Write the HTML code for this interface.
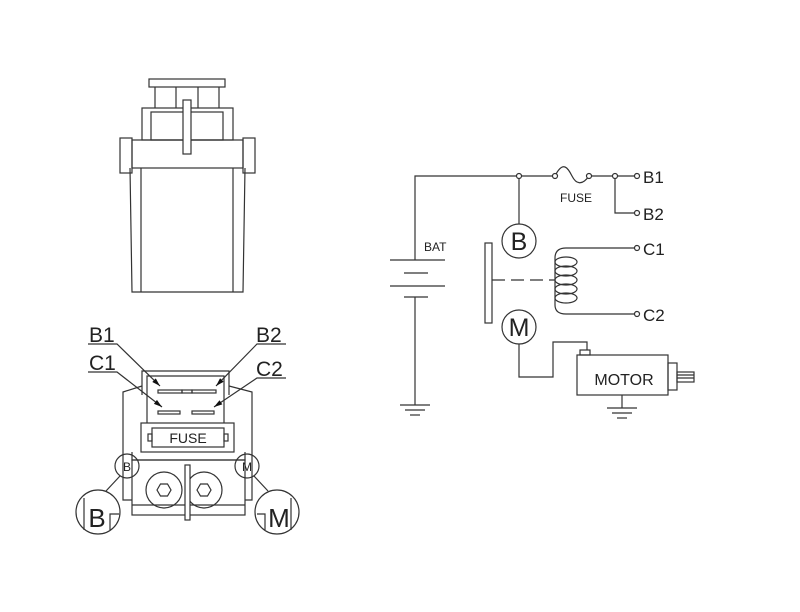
<!DOCTYPE html>
<html><head><style>html,body{margin:0;padding:0;background:#fff}svg{display:block}</style></head>
<body>
<svg width="800" height="612" viewBox="0 0 800 612" xmlns="http://www.w3.org/2000/svg" font-family="Liberation Sans, sans-serif">
<defs><marker id="a" viewBox="0 0 10 6" refX="10" refY="3" markerWidth="9" markerHeight="5" orient="auto" markerUnits="userSpaceOnUse"><path d="M0 0 L10 3 L0 6z" fill="#111"/></marker></defs>
<g fill="none" stroke="#333" stroke-width="1.2">
<!-- top view -->
<rect x="149" y="79" width="76" height="8"/>
<line x1="155" y1="87" x2="155" y2="108"/><line x1="176" y1="87" x2="176" y2="108"/>
<line x1="198" y1="87" x2="198" y2="108"/><line x1="219" y1="87" x2="219" y2="108"/>
<rect x="142" y="108" width="91" height="32"/>
<rect x="151" y="112" width="72" height="28"/>
<rect x="120" y="138" width="12" height="35"/><rect x="243" y="138" width="12" height="35"/>
<rect x="132" y="140" width="111" height="28"/>
<rect x="183" y="100" width="8" height="54" fill="#fff"/>
<path d="M130 168 L132 292 L243 292 L245 168"/>
<line x1="141" y1="168" x2="141" y2="292"/><line x1="233" y1="168" x2="233" y2="292"/>

<!-- bottom view -->
<path d="M142 395 L142 371 L229 371 L229 395"/>
<path d="M147 423 L147 376 L224 376 L224 423"/>
<path d="M142 386 L123 392 L123 500 L132 500"/>
<path d="M229 386 L252 392 L252 500 L245 500"/>
<rect x="158" y="390" width="24" height="3"/><rect x="192" y="390" width="24" height="3"/>
<rect x="182" y="390" width="10" height="3"/>
<rect x="158" y="411" width="22" height="3"/><rect x="192" y="411" width="22" height="3"/>
<rect x="141" y="423" width="93" height="29"/>
<rect x="152" y="428" width="72" height="19"/>
<rect x="148" y="434" width="4" height="7"/><rect x="224" y="434" width="4" height="7"/>
<path d="M132 452 L132 460 L245 460 L245 452"/>
<rect x="132" y="460" width="113" height="55"/>
<line x1="132" y1="505" x2="245" y2="505"/>
<circle cx="164" cy="490" r="18"/><circle cx="204" cy="490" r="18"/>
<polygon points="157,490 160.5,484 167.5,484 171,490 167.5,496 160.5,496"/>
<polygon points="197,490 200.5,484 207.5,484 211,490 207.5,496 200.5,496"/>
<rect x="185" y="465" width="5" height="55" fill="#fff"/>
<circle cx="127" cy="466" r="12"/><circle cx="247" cy="466" r="12"/>
<circle cx="98" cy="512" r="22"/><circle cx="277" cy="512" r="22"/>
<line x1="120" y1="476" x2="106" y2="491"/><line x1="254" y1="476" x2="268" y2="491"/>
<line x1="84" y1="498" x2="84" y2="530"/><path d="M110 530 L110 514 L119 514"/>
<line x1="291" y1="498" x2="291" y2="530"/><path d="M265 530 L265 514 L257 514"/>
<!-- leaders -->
<path d="M88 344 L117 344 L160 386" marker-end="url(#a)"/>
<path d="M286 344 L257 344 L216 386" marker-end="url(#a)"/>
<path d="M88 372 L117 372 L162 407" marker-end="url(#a)"/>
<path d="M286 378 L257 378 L214 407" marker-end="url(#a)"/>

<!-- schematic -->
<path d="M415 260 L415 176 L555 176"/>
<path d="M589 176 L637 176"/>
<path d="M555 176 C563 160 568 168 572 176 C576 184 582 186 589 176"/>
<path d="M615 176 L615 213 L637 213"/>
<line x1="519" y1="176" x2="519" y2="224"/>
<circle cx="519" cy="241" r="17"/>
<circle cx="519" cy="327" r="17"/>
<rect x="485" y="243" width="7" height="80"/>
<line x1="492" y1="280" x2="555" y2="280" stroke-dasharray="13,6"/>
<path d="M637 248 L566 248 Q555 248 555 258 L555 305 Q555 314 566 314 L637 314"/>
<ellipse cx="566" cy="262" rx="11" ry="5"/><ellipse cx="566" cy="271" rx="11" ry="5"/>
<ellipse cx="566" cy="280" rx="11" ry="5"/><ellipse cx="566" cy="289" rx="11" ry="5"/>
<ellipse cx="566" cy="298" rx="11" ry="5"/>
<path d="M519 344 L519 377 L553 377 L553 342 L587 342 L587 350"/>
<rect x="580" y="350" width="10" height="5"/>
<rect x="577" y="355" width="91" height="40"/>
<rect x="668" y="363" width="9" height="27"/>
<rect x="677" y="372" width="17" height="10"/>
<line x1="677" y1="375" x2="694" y2="375"/><line x1="677" y1="378" x2="694" y2="378"/>
<line x1="622" y1="395" x2="622" y2="408"/>
<line x1="607" y1="408" x2="637" y2="408"/><line x1="612" y1="413" x2="632" y2="413"/><line x1="617" y1="418" x2="627" y2="418"/>
<line x1="390" y1="260" x2="445" y2="260"/>
<line x1="404" y1="273" x2="428" y2="273"/>
<line x1="390" y1="286" x2="445" y2="286"/>
<line x1="404" y1="297" x2="428" y2="297"/>
<line x1="415" y1="297" x2="415" y2="405"/>
<line x1="400" y1="405" x2="430" y2="405"/><line x1="405" y1="410" x2="425" y2="410"/><line x1="410" y1="415" x2="420" y2="415"/>
<g fill="#fff"><circle cx="519" cy="176" r="2.5"/><circle cx="555" cy="176" r="2.5"/><circle cx="589" cy="176" r="2.5"/>
<circle cx="615" cy="176" r="2.5"/><circle cx="637" cy="176" r="2.5"/><circle cx="637" cy="213" r="2.5"/>
<circle cx="637" cy="248" r="2.5"/><circle cx="637" cy="314" r="2.5"/></g>
</g>
<g fill="#222">
<text x="89" y="342" font-size="21">B1</text>
<text x="256" y="342" font-size="21">B2</text>
<text x="89" y="370" font-size="21">C1</text>
<text x="256" y="376" font-size="21">C2</text>
<text x="188" y="443" font-size="14" text-anchor="middle">FUSE</text>
<text x="127" y="471" font-size="12" text-anchor="middle">B</text>
<text x="247" y="471" font-size="12" text-anchor="middle">M</text>
<text x="97" y="527" font-size="26" text-anchor="middle">B</text>
<text x="279" y="527" font-size="26" text-anchor="middle">M</text>
<text x="643" y="183" font-size="17">B1</text>
<text x="643" y="220" font-size="17">B2</text>
<text x="643" y="255" font-size="17">C1</text>
<text x="643" y="321" font-size="17">C2</text>
<text x="424" y="251" font-size="12">BAT</text>
<text x="576" y="202" font-size="12" text-anchor="middle">FUSE</text>
<text x="519" y="250" font-size="25" text-anchor="middle">B</text>
<text x="519" y="336" font-size="25" text-anchor="middle">M</text>
<text x="624" y="385" font-size="16" text-anchor="middle">MOTOR</text>
</g>
</svg>
</body></html>
